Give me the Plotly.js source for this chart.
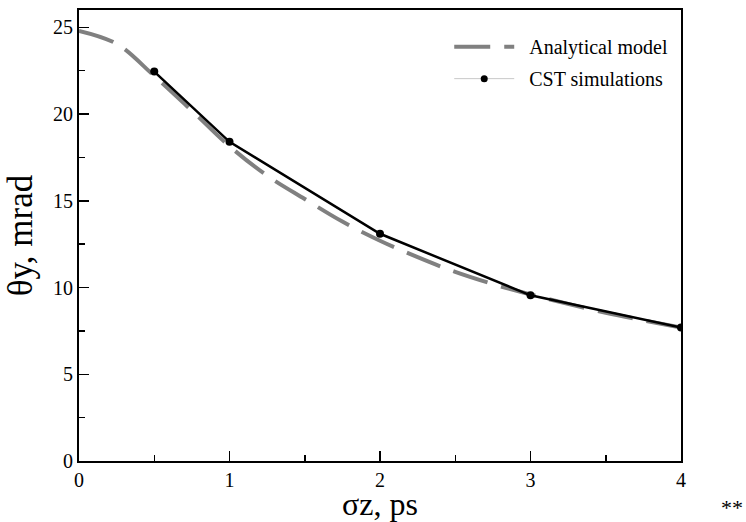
<!DOCTYPE html>
<html>
<head>
<meta charset="utf-8">
<script src="https://cdn.plot.ly/plotly-3.0.1.min.js"></script>
<style>html,body{margin:0;padding:0;background:#fff;}#chart{width:746px;height:522px;}</style>
</head>
<body>
<div id="chart"></div>
<script>
// Analytical model
const modelX = [0, 0.25, 0.5, 0.75, 1, 1.25, 1.5, 1.75, 2, 2.25, 2.5, 2.75, 3, 3.5, 4];
const modelY = [24.8, 24.05, 22.2, 20.2, 18.15, 16.45, 15.1, 13.8, 12.7, 11.75, 10.9, 10.2, 9.6, 8.55, 7.7];
// CST simulations
const cstX = [0.5, 1, 2, 3, 4];
const cstY = [22.45, 18.4, 13.1, 9.55, 7.7];
const legendNames = ["Analytical model", "CST simulations"];
const xTitle = "σz, ps";
const yTitle = "θy, mrad";
const cornerMark = "**";

const serif = "Liberation Serif";

const traces = [
  {x: modelX, y: modelY, mode: "lines", name: "\u00a0\u00a0" + legendNames[0], legendgroup: "a",
   line: {color: "#808080", width: 4, dash: "36px,14px", shape: "spline"}},
  {x: cstX, y: cstY, mode: "lines+markers", name: legendNames[1], showlegend: false,
   line: {color: "#000", width: 2.5}, marker: {color: "#000", size: 8}},
  {x: [null], y: [null], mode: "lines+markers", name: "\u00a0\u00a0" + legendNames[1], legendgroup: "b",
   line: {color: "#c8c8c8", width: 1}, marker: {color: "#000", size: 7}}
];

const axisCommon = {
  showgrid: false, zeroline: false, showline: true, linecolor: "#000", linewidth: 2, mirror: true,
  ticks: "inside", ticklen: 10, tickwidth: 1.5, tickcolor: "#000",
  tickfont: {family: serif, size: 20, color: "#000"}
};

const layout = {
  width: 746, height: 522,
  margin: {l: 79, r: 65, t: 10, b: 61},
  paper_bgcolor: "#fff", plot_bgcolor: "#fff",
  showlegend: true,
  legend: {x: 0.615, y: 0.962, xanchor: "left", yanchor: "top", bgcolor: "rgba(0,0,0,0)",
           font: {family: serif, size: 20, color: "#000"}, itemwidth: 60,
           traceorder: "grouped", tracegroupgap: 3},
  xaxis: Object.assign({}, axisCommon, {range: [0, 4], dtick: 1, tick0: 0,
    minor: {ticks: "inside", dtick: 0.5, ticklen: 6, tickwidth: 1.5, tickcolor: "#000"},
    title: {text: xTitle, font: {family: serif, size: 32, color: "#000"}, standoff: 9}}),
  yaxis: Object.assign({}, axisCommon, {range: [0, 26], dtick: 5, tick0: 0,
    minor: {ticks: "inside", dtick: 2.5, ticklen: 6, tickwidth: 1.5, tickcolor: "#000"},
    title: {text: yTitle, font: {family: serif, size: 35, color: "#000"}, standoff: 10}}),
  annotations: [{text: cornerMark, xref: "paper", yref: "paper", x: 1.106, y: -0.135, xanchor: "right", yanchor: "bottom",
    showarrow: false, font: {family: serif, size: 22, color: "#000"}}]
};

Plotly.newPlot("chart", traces, layout, {displayModeBar: false, staticPlot: true});
</script>
</body>
</html>
